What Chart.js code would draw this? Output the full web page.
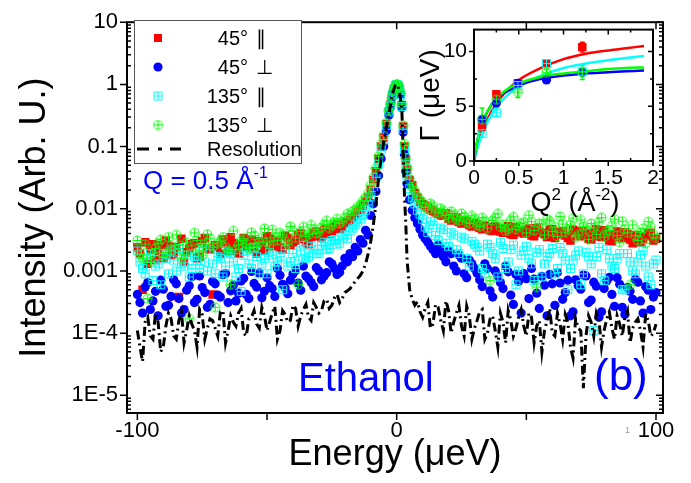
<!DOCTYPE html>
<html>
<head>
<meta charset="utf-8">
<script src="https://cdn.jsdelivr.net/npm/chart.js@4.4.1/dist/chart.umd.min.js"></script>
<style>
  body { margin: 0; background: #fff; }
  #wrap { position: relative; width: 691px; height: 483px; }
  #main { position: absolute; left: 0; top: 0; }
  #inset { position: absolute; left: 414px; top: 10px; }
</style>
</head>
<body>
<div id="wrap">
  <canvas id="main" width="691" height="483"></canvas>
  <canvas id="inset" width="270" height="215"></canvas>
</div>
<script>
const FONT = 'Arial, "Liberation Sans", sans-serif';

// energy transfer (ueV): even bins incl. the peak, then the odd bins of the wings
const energy = [
  -100, -98, -96, -94, -92, -90, -88, -86, -84, -82, -80, -78, -76, -74, -72, -70, -68, -66, -64, -62, -60, -58, -56,
  -54, -52, -50, -48, -46, -44, -42, -40, -38, -36, -34, -32, -30, -28, -26, -24, -22, -20, -18, -16, -14, -12, -10,
  -9, -8, -7, -6, -5, -4, -3, -2.5, -2, -1.5, -1, -0.5, 0, 0.5, 1, 1.5, 2, 2.5, 3, 3.5, 4, 5, 6, 7, 8, 9,
  10, 12, 14, 16, 18, 20, 22, 24, 26, 28, 30, 32, 34, 36, 38, 40, 42, 44, 46, 48, 50, 52, 54, 56,
  58, 60, 62, 64, 66, 68, 70, 72, 74, 76, 78, 80, 82, 84, 86, 88, 90, 92, 94, 96, 98, 100
];
const energyOdd = [
  -99, -97, -95, -93, -91, -89, -87, -85, -83, -81, -79, -77, -75, -73, -71, -69, -67, -65, -63, -61, -59, -57, -55,
  -53, -51, -49, -47, -45, -43, -41, -39, -37, -35, -33, -31, -29, -27, -25, -23, -21, -19, -17, -15, -13, -11,
  11, 13, 15, 17, 19, 21, 23, 25, 27, 29, 31, 33, 35, 37, 39, 41, 43, 45, 47, 49, 51, 53, 55,
  57, 59, 61, 63, 65, 67, 69, 71, 73, 75, 77, 79, 81, 83, 85, 87, 89, 91, 93, 95, 97, 99
];

// 45 deg, parallel
const par45 = [
  0.0024, 0.0005, 0.0013, 0.0027, 0.0021, 0.0016, 0.0025, 0.0019, 0.00038, 0.0014, 0.0023, 0.0028, 0.0017, 0.0034, 0.0022, 0.0026,
  0.0019, 0.0029, 0.0035, 0.0021, 0.0027, 0.0024, 0.0032, 0.0019, 0.0028, 0.0036, 0.0025, 0.0031, 0.0022, 0.0034, 0.0029, 0.0038,
  0.0033, 0.0027, 0.0041, 0.0036, 0.0045, 0.0039, 0.0052, 0.0047, 0.0058, 0.0066, 0.0079, 0.0097, 0.0128, 0.020,
  0.029, 0.040, 0.064, 0.10, 0.14, 0.23, 0.37, 0.47, 0.59, 0.71, 0.85, 0.95, 1.0, 0.97, 0.87, 0.70, 0.46, 0.21, 0.10, 0.062,
  0.043, 0.029, 0.024, 0.018, 0.015, 0.013,
  0.0118, 0.0105, 0.0092, 0.0083, 0.0078, 0.0069, 0.0074, 0.0061, 0.0066, 0.0055, 0.0059, 0.0049, 0.0054, 0.0045, 0.0052, 0.0043,
  0.0048, 0.0039, 0.0051, 0.0042, 0.0046, 0.0037, 0.0049, 0.0041, 0.0035, 0.0047, 0.0039, 0.0044, 0.0034, 0.0046, 0.0038, 0.0043,
  0.0033, 0.0041, 0.0036, 0.0045, 0.0031, 0.0039, 0.0035, 0.0042, 0.0032, 0.0038, 0.0029, 0.0036, 0.0041, 0.0033
];
const par45Odd = [
  0.0019, 0.0029, 0.0022, 0.0015, 0.0026, 0.0031, 0.0018, 0.0024, 0.0033, 0.0020, 0.0027, 0.0016, 0.0030, 0.0023, 0.00042,
  0.0025, 0.0032, 0.0021, 0.0028, 0.0019, 0.0034, 0.0026, 0.0023, 0.0030, 0.0021, 0.0033, 0.0028, 0.0024, 0.0037, 0.0026,
  0.0031, 0.0040, 0.0029, 0.0035, 0.0043, 0.0034, 0.0048, 0.0042, 0.0056, 0.0051, 0.0063, 0.0072, 0.0087, 0.0112, 0.0152,
  0.0112, 0.0097, 0.0088, 0.0079, 0.0084, 0.0065, 0.0071, 0.0058, 0.0063, 0.0052, 0.0057, 0.0047, 0.0051, 0.0044, 0.0049,
  0.0041, 0.0053, 0.0038, 0.0045, 0.0040, 0.0048, 0.0036, 0.0043, 0.0039, 0.0046, 0.0034, 0.0042, 0.0037, 0.0031, 0.0044,
  0.0036, 0.0040, 0.0032, 0.0047, 0.0035, 0.0038, 0.0030, 0.0043, 0.0034, 0.0039, 0.0028, 0.0037, 0.0033, 0.0040, 0.0031
];

// 45 deg, perpendicular
const perp45 = [
  0.00042, 0.00021, 0.00065, 0.00033, 0.00019, 0.00051, 0.00028, 0.00072, 0.00036, 0.00024, 0.00058, 0.00031, 0.00083, 0.00045,
  0.00029, 0.00062, 0.00038, 0.00091, 0.00048, 0.00033, 0.00069, 0.00042, 0.00098, 0.00055, 0.00037, 0.00078, 0.00052, 0.0011,
  0.00061, 0.00043, 0.00089, 0.00064, 0.0012, 0.00075, 0.00056, 0.0010, 0.00082, 0.0014, 0.0011, 0.00095, 0.0016, 0.0019,
  0.0024, 0.0032, 0.0045, 0.0078,
  0.012, 0.019, 0.034, 0.064, 0.10, 0.18, 0.32, 0.42, 0.55, 0.69, 0.84, 0.95, 1.0, 0.96, 0.85, 0.68, 0.42, 0.17, 0.075, 0.040,
  0.025, 0.014, 0.0095, 0.0072, 0.0058, 0.0047,
  0.0038, 0.0029, 0.0022, 0.0026, 0.0017, 0.0021, 0.0012, 0.0018, 0.0009, 0.0015, 0.0011, 0.00072, 0.0013, 0.00048, 0.0010,
  0.00065, 0.0012, 0.00041, 0.00088, 0.00021, 0.00075, 0.0011, 0.00044, 0.00082, 0.00019, 0.00062, 0.00095, 0.00035, 0.00071,
  0.00022, 0.00058, 0.00086, 0.00031, 0.00066, 0.00018, 0.00052, 0.00079, 0.00027, 0.00061, 0.00020, 0.00047, 0.00073, 0.00033,
  0.00056, 0.00024, 0.00045
];
const perp45Odd = [
  0.00031, 0.00055, 0.00024, 0.00047, 0.00071, 0.00027, 0.00039, 0.00062, 0.00021, 0.00049, 0.00081, 0.00035, 0.00054, 0.00026,
  0.00068, 0.00041, 0.00087, 0.00031, 0.00059, 0.00044, 0.00076, 0.00036, 0.00063, 0.00093, 0.00047, 0.00058, 0.00039, 0.00085,
  0.00053, 0.00071, 0.00102, 0.00049, 0.00083, 0.00065, 0.00113, 0.00072, 0.00094, 0.0013, 0.00088, 0.0012, 0.0014, 0.0017,
  0.0021, 0.0028, 0.0038,
  0.0033, 0.0025, 0.0019, 0.0023, 0.0014, 0.0019, 0.0010, 0.0016, 0.00078, 0.0013, 0.00092, 0.00056, 0.0011, 0.00038, 0.00083,
  0.00052, 0.00097, 0.00029, 0.00068, 0.00091, 0.00036, 0.00074, 0.00025, 0.00059, 0.00088, 0.00028, 0.00064, 0.00045, 0.00019,
  0.00072, 0.00051, 0.00083, 0.00034, 0.00057, 0.00022, 0.00069, 0.00042, 0.00078, 0.00026, 0.00054, 0.00035, 0.00066, 0.00021,
  0.00049, 0.00038
];

// 135 deg, parallel
const par135 = [
  0.0021, 0.0011, 0.0016, 0.0007, 0.0013, 0.0019, 0.0009, 0.0015, 0.0023, 0.0012, 0.0008, 0.0017, 0.0011, 0.0014, 0.0022, 0.0009,
  0.0016, 0.0012, 0.0019, 0.0008, 0.00047, 0.0021, 0.0011, 0.0017, 0.0013, 0.0009, 0.0018, 0.0014, 0.0005, 0.0012, 0.0019, 0.0015,
  0.0026, 0.0017, 0.0022, 0.0019, 0.0029, 0.0023, 0.0032, 0.0028, 0.0038, 0.0044, 0.0055, 0.0068, 0.0095, 0.0155,
  0.022, 0.032, 0.052, 0.088, 0.13, 0.22, 0.36, 0.46, 0.58, 0.71, 0.85, 0.95, 1.0, 0.97, 0.86, 0.69, 0.44, 0.19, 0.09, 0.052,
  0.034, 0.021, 0.015, 0.012, 0.0095, 0.0082,
  0.0068, 0.0042, 0.0055, 0.0031, 0.0046, 0.0025, 0.0038, 0.0019, 0.0033, 0.0012, 0.0027, 0.0021, 0.0009, 0.0024, 0.0016, 0.0029,
  0.0011, 0.0022, 0.0006, 0.0018, 0.0025, 0.0013, 0.0020, 0.0008, 0.0017, 0.0023, 0.0011, 0.0019, 0.0005, 0.0015, 0.0021, 0.0009,
  0.0017, 0.00011, 0.0024, 0.0007, 0.0016, 0.0011, 0.0019, 0.0005, 0.0014, 0.0009, 0.0018, 0.0012, 0.0006, 0.0015
];
const par135Odd = [
  0.0014, 0.0009, 0.0019, 0.0012, 0.0006, 0.0016, 0.0021, 0.0010, 0.0013, 0.0018, 0.0011, 0.0015, 0.0024, 0.0010, 0.0013,
  0.0017, 0.0008, 0.0020, 0.0014, 0.0011, 0.0018, 0.0013, 0.0024, 0.0009, 0.0016, 0.0020, 0.0012, 0.0017, 0.0022, 0.0014,
  0.0011, 0.0021, 0.0016, 0.0025, 0.0019, 0.0026, 0.0022, 0.0031, 0.0027, 0.0035, 0.0033, 0.0049, 0.0061, 0.0081, 0.0115,
  0.0051, 0.0062, 0.0037, 0.0049, 0.0028, 0.0041, 0.0022, 0.0035, 0.0016, 0.0030, 0.0024, 0.0011, 0.0027, 0.0019, 0.0008,
  0.0023, 0.0014, 0.0026, 0.0010, 0.0021, 0.0016, 0.0007, 0.0022, 0.0013, 0.0019, 0.0009, 0.0024, 0.0015, 0.0011, 0.0018,
  0.0006, 0.0020, 0.0013, 0.0017, 0.0009, 0.0022, 0.0012, 0.0016, 0.0005, 0.0019, 0.0010, 0.0014, 0.0021, 0.0008, 0.0013
];

// 135 deg, perpendicular
const perp135 = [
  0.0031, 0.0016, 0.00036, 0.0019, 0.0028, 0.0017, 0.0035, 0.0022, 0.0026, 0.0018, 0.00017, 0.0041, 0.0021, 0.0027, 0.0033, 0.00026,
  0.0030, 0.0024, 0.0006, 0.0022, 0.0031, 0.0027, 0.0042, 0.0025, 0.0034, 0.0029, 0.0046, 0.0031, 0.0038, 0.0027, 0.0044, 0.0006,
  0.0051, 0.0039, 0.0047, 0.0042, 0.0056, 0.0049, 0.0061, 0.0058, 0.0072, 0.0079, 0.0098, 0.0115, 0.0152, 0.024,
  0.032, 0.045, 0.070, 0.11, 0.15, 0.24, 0.38, 0.48, 0.60, 0.72, 0.86, 0.96, 1.0, 0.98, 0.88, 0.72, 0.48, 0.22, 0.11, 0.065,
  0.045, 0.030, 0.023, 0.019, 0.016, 0.014,
  0.0125, 0.0098, 0.0112, 0.0085, 0.0093, 0.0071, 0.0082, 0.0064, 0.0075, 0.0058, 0.0069, 0.0052, 0.0063, 0.0007, 0.0072, 0.0051,
  0.0044, 0.0066, 0.0047, 0.0058, 0.0041, 0.0062, 0.00055, 0.0055, 0.0068, 0.0043, 0.0036, 0.0057, 0.0046, 0.0071, 0.0038, 0.0052,
  0.0032, 0.0049, 0.0061, 0.0035, 0.0045, 0.0068, 0.0029, 0.0047, 0.0006, 0.0037, 0.0042, 0.0028, 0.0051, 0.0034
];
const perp135Odd = [
  0.0019, 0.0027, 0.0014, 0.0023, 0.0032, 0.0020, 0.0026, 0.0038, 0.0016, 0.0029, 0.0022, 0.0031, 0.0018, 0.0039, 0.0024,
  0.0028, 0.0035, 0.0021, 0.0044, 0.0026, 0.0033, 0.0023, 0.0037, 0.0029, 0.0048, 0.0026, 0.0035, 0.0041, 0.0030, 0.0052,
  0.0034, 0.0043, 0.0036, 0.0055, 0.0040, 0.0050, 0.0064, 0.0053, 0.0069, 0.0062, 0.0083, 0.0091, 0.0108, 0.0135, 0.0178,
  0.0105, 0.0121, 0.0089, 0.0102, 0.0078, 0.0091, 0.0068, 0.0084, 0.0061, 0.0077, 0.0055, 0.0072, 0.0049, 0.0065, 0.0083,
  0.0056, 0.0047, 0.0074, 0.0052, 0.0061, 0.0079, 0.0045, 0.0058, 0.0038, 0.0064, 0.0051, 0.0075, 0.0042, 0.0055, 0.0035,
  0.0066, 0.0047, 0.0058, 0.0039, 0.0072, 0.0044, 0.0053, 0.0037, 0.0063, 0.0041, 0.0055, 0.0031, 0.0048, 0.0062, 0.0039
];

// instrument resolution
const resolution = [
  0.00011, 0.000035, 0.00018, 0.00008, 0.00015, 0.00006, 0.00021, 0.00009, 0.00016, 0.00007, 0.00019, 0.00011, 0.00024, 0.00008,
  0.00017, 0.00012, 0.00022, 0.00007, 0.00019, 0.00013, 0.00025, 0.00009, 0.00018, 0.00014, 0.00026, 0.00011, 0.00021, 0.00008,
  0.00023, 0.00015, 0.00028, 0.00013, 0.00024, 0.00018, 0.00031, 0.00021, 0.00033, 0.00025, 0.00037, 0.00031, 0.00045, 0.00052,
  0.00068, 0.00085, 0.0013, 0.0030,
  0.0055, 0.012, 0.030, 0.065, 0.12, 0.20, 0.34, 0.44, 0.57, 0.72, 0.86, 0.96, 1.0, 0.93, 0.78, 0.58, 0.38, 0.09, 0.016, 0.006,
  0.0015, 0.0005, 0.00035, 0.00028, 0.00032, 0.00022,
  0.00018, 0.00031, 0.00014, 0.00026, 0.00011, 0.00023, 0.00015, 0.00028, 0.00009, 0.00019, 0.00012, 0.00022, 0.00008, 0.00017,
  0.00011, 0.00021, 0.00007, 0.00016, 0.00012, 0.00024, 0.00009, 0.00018, 0.00013, 0.00005, 0.00016, 0.0001, 0.00021, 0.00008,
  0.00015, 0.00004, 0.00012, 0.000013, 0.00019, 0.00009, 0.00016, 0.00011, 0.00022, 0.00008, 0.00014, 0.00018, 0.00007, 0.00015,
  0.00011, 0.0002, 0.00009, 0.00014
];
const resolutionOdd = [
  0.00006, 0.00015, 0.00009, 0.00021, 0.00005, 0.00013, 0.00017, 0.00008, 0.00022, 0.00011, 0.00014, 0.00006, 0.0002, 0.00012,
  0.00016, 0.00009, 0.00023, 0.00011, 0.00015, 0.00021, 0.0001, 0.00017, 0.00023, 0.00012, 0.00019, 0.00015, 0.00027, 0.00011,
  0.0002, 0.00016, 0.00025, 0.00019, 0.00029, 0.00016, 0.00026, 0.00023, 0.00035, 0.00028, 0.00042, 0.00036, 0.00048, 0.00059,
  0.00076, 0.001, 0.0019,
  0.00025, 0.00012, 0.00029, 0.00016, 0.00033, 0.0001, 0.00021, 0.00013, 0.00027, 0.00008, 0.00016, 0.00024, 0.0001, 0.00019,
  0.00006, 0.00015, 0.00023, 0.00009, 0.00018, 0.00013, 0.00021, 0.00007, 0.00016, 0.00011, 0.00025, 0.00009, 0.00014, 0.0002,
  0.00006, 0.00017, 0.00011, 0.00009, 0.00015, 0.00021, 0.00006, 0.00017, 0.00012, 0.00019, 0.00009, 0.00023, 0.00012, 0.00017,
  0.00006, 0.00016, 0.0001
];

const xTickValues = [-100, -50, 0, 50, 100];
const xTickLabels = ['-100', '', '0', '', '100'];
const yTickValues = [1e-5, 1e-4, 1e-3, 1e-2, 0.1, 1, 10];
const yTickLabels = ['1E-5', '1E-4', '0.001', '0.01', '0.1', '1', '10'];
const legendLabels = [['45°', '∥'], ['45°', '⊥'], ['135°', '∥'], ['135°', '⊥']];

// inset: linewidth vs Q^2
const q2 = [0.09, 0.25, 0.49, 0.81, 1.21];
const gammaPar45 = [3.1, 6.1, 7.1, 8.9, 10.4];
const gammaPerp45 = [3.8, 5.3, 7.1, 7.4, 8.1];
const gammaPar135 = [2.5, 4.4, 6.9, 8.9, 8.2];
const gammaPerp135 = [3.8, 5.6, 6.3, 8.1, 8.1];
const errPar45 = [0.3, 0.3, 0.3, 0.3, 0.45];
const errPerp45 = [0.3, 0.3, 0.3, 0.25, 0.3];
const errPar135 = [0.3, 0.3, 0.3, 0.3, 0.3];
const errPerp135 = [1.05, 0.7, 0.5, 0.3, 0.65];

// fitted curves
const q2Fit = [0, 0.02, 0.05, 0.1, 0.2, 0.3, 0.4, 0.5, 0.75, 1.0, 1.25, 1.5, 1.7, 1.9];
const fitPar45 = [0, 0.7, 1.6, 2.9, 4.6, 5.8, 6.7, 7.4, 8.5, 9.3, 9.8, 10.1, 10.3, 10.5];
const fitPar135 = [0, 0.65, 1.5, 2.6, 4.3, 5.4, 6.2, 6.8, 7.8, 8.5, 8.9, 9.2, 9.4, 9.6];
const fitPerp135 = [0, 1.1, 2.3, 3.7, 5.2, 6.1, 6.7, 7.1, 7.7, 8.0, 8.2, 8.4, 8.5, 8.55];
const fitPerp45 = [0, 1.1, 2.3, 3.6, 5.2, 6.0, 6.5, 6.9, 7.5, 7.8, 8.0, 8.1, 8.2, 8.26];

const RED = '#ff0000', BLUE = '#0000ff', CYAN = '#00ffff', GREEN = '#00ff00';

// open markers with a cross inside
function makeMarker(kind, color) {
  const c = document.createElement('canvas');
  c.width = c.height = 11;
  const g = c.getContext('2d');
  g.strokeStyle = color;
  g.lineWidth = 1;
  g.beginPath();
  if (kind === 'box') {
    g.rect(1.5, 1.5, 8, 8);
  } else {
    g.arc(5.5, 5.5, 4.5, 0, Math.PI * 2);
  }
  g.moveTo(5.5, 1.5); g.lineTo(5.5, 9.5);
  g.moveTo(1.5, 5.5); g.lineTo(9.5, 5.5);
  g.stroke();
  return c;
}
const boxPlus = makeMarker('box', CYAN);
const circlePlus = makeMarker('circle', GREEN);

function drawRich(ctx, parts, x, baseline, align) {
  let w = 0;
  parts.forEach(p => { ctx.font = p.size + 'px ' + FONT; w += ctx.measureText(p.t).width; });
  let cx = align === 'center' ? x - w / 2 : x;
  ctx.textAlign = 'left';
  ctx.textBaseline = 'alphabetic';
  parts.forEach(p => {
    ctx.font = p.size + 'px ' + FONT;
    ctx.fillText(p.t, cx, baseline - (p.rise || 0));
    cx += ctx.measureText(p.t).width;
  });
}

// frame box with ticks on all four sides
const frameTicks = {
  id: 'frameTicks',
  afterDatasetsDraw(chart, args, o) {
    const { ctx, chartArea: a } = chart;
    const sx = chart.scales.x, sy = chart.scales.y;
    ctx.save();
    ctx.strokeStyle = '#000';
    ctx.lineWidth = o.frame;
    ctx.strokeRect(a.left, a.top, a.right - a.left, a.bottom - a.top);
    ctx.lineWidth = 1.5;
    ctx.beginPath();
    o.xMajor.forEach(v => {
      const p = sx.getPixelForValue(v);
      ctx.moveTo(p, a.bottom); ctx.lineTo(p, a.bottom + o.major);
      ctx.moveTo(p, a.top); ctx.lineTo(p, a.top + o.major);
    });
    o.xMinor.forEach(v => {
      const p = sx.getPixelForValue(v);
      ctx.moveTo(p, a.bottom); ctx.lineTo(p, a.bottom - o.minor);
      ctx.moveTo(p, a.top); ctx.lineTo(p, a.top + o.minor);
    });
    o.yMajor.forEach(v => {
      const p = sy.getPixelForValue(v);
      ctx.moveTo(a.left - o.major, p); ctx.lineTo(a.left, p);
      ctx.moveTo(a.right, p); ctx.lineTo(a.right - o.major, p);
    });
    o.yMinor.forEach(v => {
      const p = sy.getPixelForValue(v);
      ctx.moveTo(a.left, p); ctx.lineTo(a.left + o.minor, p);
      ctx.moveTo(a.right, p); ctx.lineTo(a.right - o.minor, p);
    });
    ctx.stroke();
    ctx.restore();
  }
};

// legend box and text labels of the main panel
const overlay = {
  id: 'overlay',
  afterDraw(chart) {
    const ctx = chart.ctx;
    ctx.save();
    ctx.fillStyle = '#fff';
    ctx.fillRect(134.5, 20.5, 167, 143);
    ctx.strokeStyle = '#555';
    ctx.lineWidth = 1;
    ctx.strokeRect(134.5, 20.5, 167, 143);

    const rows = [38, 67, 96, 125];
    ctx.fillStyle = RED;
    ctx.fillRect(154, rows[0] - 4, 8, 8);
    ctx.fillStyle = BLUE;
    ctx.beginPath(); ctx.arc(158, rows[1], 4.6, 0, Math.PI * 2); ctx.fill();
    ctx.drawImage(boxPlus, 152.5, rows[2] - 5.5);
    ctx.drawImage(circlePlus, 152.5, rows[3] - 5.5);
    ctx.strokeStyle = '#000';
    ctx.lineWidth = 3;
    ctx.beginPath();
    ctx.moveTo(137, 149); ctx.lineTo(149, 149);
    ctx.moveTo(158, 149); ctx.lineTo(162, 149);
    ctx.moveTo(170, 149); ctx.lineTo(181, 149);
    ctx.stroke();

    ctx.fillStyle = '#000';
    ctx.font = '20px ' + FONT;
    ctx.textBaseline = 'middle';
    legendLabels.forEach((l, i) => {
      ctx.textAlign = 'right';
      ctx.fillText(l[0], 248, rows[i] + 1);
      ctx.textAlign = 'left';
      ctx.fillText(l[1], 256, rows[i] + 1);
    });
    ctx.fillText('Resolution', 207, 150);

    ctx.fillStyle = BLUE;
    drawRich(ctx, [{ t: 'Q = 0.5 Å', size: 26 }, { t: '-1', size: 16, rise: 11 }], 143, 189, 'left');
    ctx.font = '40px ' + FONT;
    ctx.fillText('Ethanol', 298, 391);
    ctx.font = '44px ' + FONT;
    ctx.fillText('(b)', 594, 390);
    ctx.fillStyle = '#999';
    ctx.font = '9px ' + FONT;
    ctx.fillText('1', 625, 433);
    ctx.restore();
  }
};

const errorBars = {
  id: 'errorBars',
  beforeDatasetsDraw(chart) {
    const { ctx } = chart;
    const sx = chart.scales.x, sy = chart.scales.y;
    ctx.save();
    ctx.lineWidth = 1.5;
    chart.data.datasets.forEach(ds => {
      if (!ds.errors) return;
      ctx.strokeStyle = ds.errColor;
      ctx.beginPath();
      ds.data.forEach((p, i) => {
        const px = sx.getPixelForValue(p.x);
        const y1 = sy.getPixelForValue(p.y + ds.errors[i]);
        const y2 = sy.getPixelForValue(p.y - ds.errors[i]);
        ctx.moveTo(px, y1); ctx.lineTo(px, y2);
        ctx.moveTo(px - 2.5, y1); ctx.lineTo(px + 2.5, y1);
        ctx.moveTo(px - 2.5, y2); ctx.lineTo(px + 2.5, y2);
      });
      ctx.stroke();
    });
    ctx.restore();
  }
};

const insetTitle = {
  id: 'insetTitle',
  afterDraw(chart) {
    const ctx = chart.ctx;
    ctx.save();
    ctx.fillStyle = '#000';
    drawRich(ctx, [
      { t: 'Q', size: 27 }, { t: '2', size: 17, rise: 11 }, { t: ' (Å', size: 27 },
      { t: '-2', size: 17, rise: 11 }, { t: ')', size: 27 }
    ], 161, 201, 'center');
    ctx.restore();
  }
};

// even and odd bins merged, sorted by energy
const toPts = (even, odd) => energy.map((e, i) => ({ x: e, y: even[i] }))
  .concat(energyOdd.map((e, i) => ({ x: e, y: odd[i] })))
  .sort((a, b) => a.x - b.x);

const logMinor = [];
for (let d = 1e-6; d < 10; d *= 10) {
  for (let k = 2; k <= 9; k++) {
    const v = d * k;
    if (v > 5.2e-6 && v < 10) logMinor.push(v);
  }
}

new Chart(document.getElementById('main'), {
  type: 'scatter',
  data: {
    datasets: [
      {
        label: 'Resolution', data: toPts(resolution, resolutionOdd), showLine: true, pointRadius: 0,
        borderColor: '#000', borderWidth: 3, borderDash: [9, 4, 2, 4], order: 0
      },
      { label: '135° ⊥', data: toPts(perp135, perp135Odd), pointStyle: circlePlus, pointRadius: 5, order: 1 },
      { label: '135° ∥', data: toPts(par135, par135Odd), pointStyle: boxPlus, pointRadius: 5, order: 2 },
      {
        label: '45° ⊥', data: toPts(perp45, perp45Odd), pointStyle: 'circle', pointRadius: 4.6,
        pointBackgroundColor: BLUE, pointBorderWidth: 0, order: 3
      },
      {
        label: '45° ∥', data: toPts(par45, par45Odd), pointStyle: 'rect', pointRadius: 6,
        pointBackgroundColor: RED, pointBorderWidth: 0, order: 4
      }
    ]
  },
  options: {
    responsive: false,
    animation: false,
    devicePixelRatio: 1,
    events: [],
    layout: { padding: { top: 18, right: 28, left: 0, bottom: 0 } },
    plugins: {
      legend: { display: false },
      tooltip: { enabled: false },
      frameTicks: { frame: 2, major: 7, minor: 4, xMajor: xTickValues, xMinor: [], yMajor: yTickValues, yMinor: logMinor }
    },
    scales: {
      x: {
        type: 'linear', min: -104, max: 102.7,
        afterBuildTicks: s => { s.ticks = xTickValues.map(v => ({ value: v })); },
        afterFit: s => { s.height = 70; },
        grid: { display: false, drawTicks: false }, border: { display: false },
        ticks: {
          color: '#000', font: { size: 22, family: FONT }, padding: 5, maxRotation: 0, autoSkip: false,
          callback: v => xTickLabels[xTickValues.indexOf(v)]
        },
        title: { display: true, text: 'Energy (μeV)', color: '#000', font: { size: 36, family: FONT }, padding: { top: 0, bottom: 6 } }
      },
      y: {
        type: 'logarithmic', min: 5.2e-6, max: 10,
        afterBuildTicks: s => { s.ticks = yTickValues.map(v => ({ value: v })); },
        afterFit: s => { s.width = 127; },
        grid: { display: false, drawTicks: false }, border: { display: false },
        ticks: {
          color: '#000', font: { size: 22, family: FONT }, padding: 9, autoSkip: false,
          callback: v => yTickLabels[yTickValues.findIndex(t => Math.abs(Math.log10(t) - Math.log10(v)) < 1e-6)]
        },
        title: { display: true, text: 'Intensity (Arb. U.)', color: '#000', font: { size: 36, family: FONT }, padding: { top: 13, bottom: 0 } }
      }
    }
  },
  plugins: [frameTicks, overlay]
});

const toQ = arr => q2.map((q, i) => ({ x: q, y: arr[i] }));
const toFit = arr => q2Fit.map((q, i) => ({ x: q, y: arr[i] }));
const fitLine = (data, color) => ({
  data: toFit(data), showLine: true, pointRadius: 0, borderColor: color, borderWidth: 2.5,
  cubicInterpolationMode: 'monotone', order: 10
});

new Chart(document.getElementById('inset'), {
  type: 'scatter',
  data: {
    datasets: [
      { data: toQ(gammaPerp135), errors: errPerp135, errColor: GREEN, pointStyle: circlePlus, pointRadius: 5, order: 1 },
      { data: toQ(gammaPar135), errors: errPar135, errColor: CYAN, pointStyle: boxPlus, pointRadius: 5, order: 2 },
      { data: toQ(gammaPerp45), errors: errPerp45, errColor: BLUE, pointStyle: 'circle', pointRadius: 4.6, pointBackgroundColor: BLUE, pointBorderWidth: 0, order: 3 },
      { data: toQ(gammaPar45), errors: errPar45, errColor: RED, pointStyle: 'rect', pointRadius: 6, pointBackgroundColor: RED, pointBorderWidth: 0, order: 4 },
      fitLine(fitPerp135, GREEN),
      fitLine(fitPerp45, BLUE),
      fitLine(fitPar135, CYAN),
      fitLine(fitPar45, RED)
    ]
  },
  options: {
    responsive: false,
    animation: false,
    devicePixelRatio: 1,
    events: [],
    layout: { padding: { top: 15, right: 31, left: 0, bottom: 0 } },
    plugins: {
      legend: { display: false },
      tooltip: { enabled: false },
      frameTicks: { frame: 2, major: 5, minor: 3, xMajor: [0, 0.5, 1, 1.5, 2], xMinor: [0.25, 0.75, 1.25, 1.75], yMajor: [0, 5, 10], yMinor: [2.5, 7.5] }
    },
    scales: {
      x: {
        type: 'linear', min: 0, max: 2,
        afterBuildTicks: s => { s.ticks = [0, 0.5, 1, 1.5, 2].map(v => ({ value: v })); },
        afterFit: s => { s.height = 64; },
        grid: { display: false, drawTicks: false }, border: { display: false },
        ticks: { color: '#000', font: { size: 21, family: FONT }, padding: 5, maxRotation: 0, autoSkip: false, callback: v => String(v) },
        title: { display: false }
      },
      y: {
        type: 'linear', min: 0, max: 12,
        afterBuildTicks: s => { s.ticks = [0, 5, 10].map(v => ({ value: v })); },
        afterFit: s => { s.width = 60; },
        grid: { display: false, drawTicks: false }, border: { display: false },
        ticks: { color: '#000', font: { size: 21, family: FONT }, padding: 7, autoSkip: false, callback: v => String(v) },
        title: { display: true, text: 'Γ (μeV)', color: '#000', font: { size: 28, family: FONT }, padding: { top: 0, bottom: 0 } }
      }
    }
  },
  plugins: [frameTicks, errorBars, insetTitle]
});
</script>
</body>
</html>
